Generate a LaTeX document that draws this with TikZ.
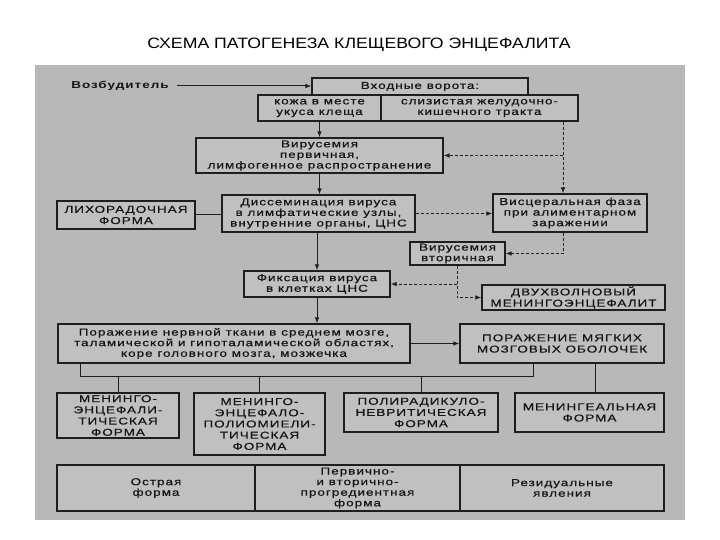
\documentclass[tikz,border=0pt]{standalone}
\usepackage{fontspec}
\setmainfont{Liberation Sans}
\newfontfamily\bx[FakeStretch=1.35,LetterSpace=10,FakeBold=0.6]{Liberation Sans}
\newfontfamily\bxb[FakeStretch=1.35,LetterSpace=10]{Liberation Sans Bold}
\newfontfamily\ttl[FakeStretch=1.18]{Liberation Sans}
\usetikzlibrary{arrows.meta}
\definecolor{bg}{RGB}{184,184,184}
\definecolor{bf}{RGB}{192,192,192}
\definecolor{ln}{RGB}{30,30,30}
\begin{document}
\begin{tikzpicture}[x=1pt,y=-1pt,
  box/.style={draw=ln, fill=bf, line width=1.1pt, inner sep=0pt, align=center,
    font=\bx\fontsize{10}{10.6}\selectfont, text=black!92},
  capbox/.style={box, font=\bx\fontsize{10}{11.2}\selectfont},
  sz/.style 2 args={minimum width=#1, minimum height=#2},
  con/.style={draw=ln, line width=1pt},
  arr/.style={con, -{Latex[length=6pt,width=4.5pt]}},
  dsh/.style={dash pattern=on 3pt off 2pt}]
\useasboundingbox (0,0) rectangle (720,540);
\fill[white] (0,0) rectangle (720,540);
\fill[bg] (35,65) rectangle (685,520);

\node[font=\ttl\fontsize{15}{17}\selectfont, inner sep=0pt] (title) at (359,45) {СХЕМА ПАТОГЕНЕЗА КЛЕЩЕВОГО ЭНЦЕФАЛИТА};

\node[font=\bxb\fontsize{10}{11}\selectfont, inner sep=0pt, text=black!92] (vozb) at (120,86) {Возбудитель};
\node[box, sz={216}{17}] (vhod) at (420,86.5) {Входные ворота:};
\node[box, sz={123}{26}] (kozha) at (319.5,108) {кожа в месте\\укуса клеща};
\node[box, sz={197}{26}] (sliz) at (479.5,108) {слизистая желудочно-\\кишечного тракта};
\node[box, sz={247}{35}] (vir1) at (319.5,155.5) {Вирусемия\\первичная,\\лимфогенное распространение};
\node[capbox, sz={138}{28}] (likh) at (126,215) {ЛИХОРАДОЧНАЯ\\ФОРМА};
\node[box, sz={193}{37}] (diss) at (318.5,213.5) {Диссеминация вируса\\в лимфатические узлы,\\внутренние органы, ЦНС};
\node[box, sz={154}{38}] (visc) at (570,213) {Висцеральная фаза\\при алиментарном\\заражении};
\node[box, sz={95}{23}] (vir2) at (457.5,253.5) {Вирусемия\\вторичная};
\node[box, sz={146}{26}] (fix) at (317,284) {Фиксация вируса\\в клетках ЦНС};
\node[capbox, sz={183}{25}] (dvuh) at (573.5,297.5) {ДВУХВОЛНОВЫЙ\\МЕНИНГОЭНЦЕФАЛИТ};
\node[box, sz={352}{39}] (por) at (234,343.5) {Поражение нервной ткани в среднем мозге,\\таламической и гипоталамической областях,\\коре головного мозга, мозжечка};
\node[capbox, sz={204}{39}] (porm) at (562,343.5) {ПОРАЖЕНИЕ МЯГКИХ\\МОЗГОВЫХ ОБОЛОЧЕК};
\node[capbox, sz={122}{45}] (f1) at (118,415.5) {МЕНИНГО-\\ЭНЦЕФАЛИ-\\ТИЧЕСКАЯ\\ФОРМА};
\node[capbox, sz={131}{62}] (f2) at (259.5,424) {МЕНИНГО-\\ЭНЦЕФАЛО-\\ПОЛИОМИЕЛИ-\\ТИЧЕСКАЯ\\ФОРМА};
\node[capbox, sz={154}{39}] (f3) at (421,412.5) {ПОЛИРАДИКУЛО-\\НЕВРИТИЧЕСКАЯ\\ФОРМА};
\node[capbox, sz={149}{39}] (f4) at (589.5,412.5) {МЕНИНГЕАЛЬНАЯ\\ФОРМА};
\node[box, sz={198}{46}] (b1) at (156,488) {Острая\\форма};
\node[box, sz={205}{46}] (b2) at (357.5,488) {Первично-\\и вторично-\\прогредиентная\\форма};
\node[box, sz={204}{46}] (b3) at (562,488) {Резидуальные\\явления};

\coordinate (sd) at (563,0);
\coordinate (vd) at (457,0);
\coordinate (t0) at (80,376);
\coordinate (t1) at (533,376);
\coordinate (t2) at (595,0);

\draw[arr, shorten <=8pt] (vozb.east) -- (vozb.east -| vhod.west);
\draw[arr] (kozha.south) -- (kozha.south |- vir1.north);
\draw[arr, dsh] (sliz.south -| sd) -- (visc.north -| sd);
\draw[arr, dsh] (sd |- vir1.east) -- (vir1.east);
\draw[arr] (vir1.south) -- (vir1.south |- diss.north);
\draw[con] (likh.east) -- (likh.east -| diss.west);
\draw[arr, dsh] (diss.east) -- (diss.east -| visc.west);
\draw[arr, dsh] (visc.south -| sd) |- (vir2.east);
\draw[arr] (fix.north |- diss.south) -- (fix.north);
\draw[arr, dsh] (vir2.south -| vd) |- (dvuh.west);
\draw[arr, dsh] (vd |- fix.east) -- (fix.east);
\draw[arr] (fix.south) -- (fix.south |- por.north);
\draw[arr] (por.east) -- (porm.west);
\draw[con] (por.south -| t0) -- (t0) -- (t1) -- (porm.south -| t1);
\draw[con] (f1.north |- t0) -- (f1.north);
\draw[con] (f2.north |- t0) -- (f2.north);
\draw[con] (f3.north |- t0) -- (f3.north);
\draw[con] (porm.south -| t2) -- (f4.north -| t2);
\end{tikzpicture}
\end{document}
